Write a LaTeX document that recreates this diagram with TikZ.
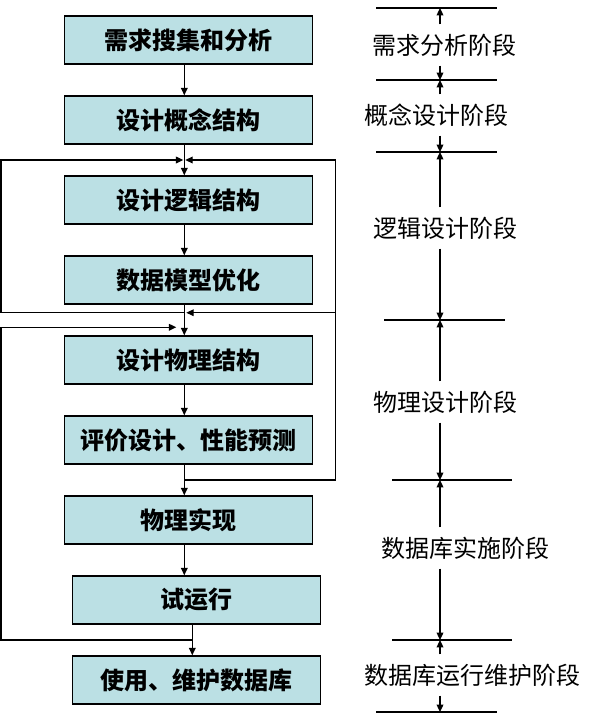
\documentclass[tikz,border=0pt]{standalone}
\usepackage{fontspec}
\newfontfamily\cjk{Noto Sans CJK SC}
\usetikzlibrary{arrows.meta,calc,positioning}
\definecolor{boxfill}{RGB}{187,224,228}
\tikzset{pin/.style={-{Triangle[length=5.5pt,width=5pt]}},
  phase/.style={draw, line width=1.1pt, fill=boxfill, minimum width=186pt, minimum height=36pt,
    inner sep=0pt, font=\cjk\bfseries\fontsize{18}{20}\selectfont},
  stage/.style={inner sep=0pt, minimum height=30pt, font=\cjk\fontsize{18}{20}\selectfont}}

\begin{document}
\begin{tikzpicture}[x=0.75pt, y=-0.75pt, line width=0.9pt, node distance=22.9pt]
  \useasboundingbox (0,0) rectangle (597,721);
  % design steps
  \node[phase] (b1) at (188.3,40) {需求搜集和分析};
  \node[phase, below=of b1] (b2) {设计概念结构};
  \node[phase, below=of b2] (b3) {设计逻辑结构};
  \node[phase, below=of b3] (b4) {数据模型优化};
  \node[phase, below=of b4] (b5) {设计物理结构};
  \node[phase, below=of b5] (b6) {评价设计、性能预测};
  \node[phase, below=of b6] (b7) {物理实现};
  \node[phase, below=of b7, xshift=6pt] (b8) {试运行};
  \node[phase, below=of b8] (b9) {使用、维护数据库};
  \coordinate (sp) at ([xshift=-3pt]b1.south);
  \foreach \a/\b in {b1/b2, b2/b3, b3/b4, b4/b5, b5/b6, b6/b7, b7/b8}{\draw[pin] (\a.south -| sp) -- (\b.north -| sp);}
  \draw[pin] ([xshift=-3pt]b8.south) -- ([xshift=-3pt]b9.north);
  % feedback loops
  \coordinate (lft) at (1,0);
  \coordinate (rgt) at (335.7,0);
  \coordinate (fbT) at ($(b2.south -| sp)!0.5!(b3.north -| sp)$);
  \coordinate (fbL) at ($(b4.south -| sp)+(0,8)$);
  \coordinate (fbQ) at ($(b5.north -| sp)+(0,-8)$);
  \coordinate (fbP) at ($(b6.south -| sp)!0.5!(b7.north -| sp)$);
  \coordinate (fbR) at ($([xshift=-3pt]b8.south)!0.5!([xshift=-3pt]b9.north)$);
  \draw[pin, shorten >=0.75pt] (fbL) -- (fbL -| lft) -- (fbT -| lft) -- (fbT);
  \draw[pin, shorten >=0.75pt] (fbP) -- (fbP -| rgt) -- (fbT -| rgt) -- (fbT);
  \draw[pin, shorten >=1.5pt] (fbL -| rgt) -- (fbL);
  \draw[pin, shorten >=6pt] (fbR) -- (fbR -| lft) -- (fbQ -| lft) -- (fbQ);
  % stage marks
  \foreach \n/\y/\l/\r in {0/8/376/497, 1/80/376/497, 2/152/376/497, 3/320/384/505,
      4/480/392/512, 5/640/392/512, 6/712/376/497}{
    \coordinate (m\n) at (440,\y);
    \draw (\l,\y) -- (\r,\y);
  }
  \node[stage] (s1) at (444.8,45) {需求分析阶段};
  \node[stage] (s2) at (436.5,115) {概念设计阶段};
  \node[stage] (s3) at (445,228) {逻辑设计阶段};
  \node[stage] (s4) at (445,402) {物理设计阶段};
  \node[stage] (s5) at (465,548) {数据库实施阶段};
  \node[stage] (s6) at (472.3,675) {数据库运行维护阶段};
  \foreach \s/\a/\b in {1/0/1, 2/1/2, 3/2/3, 4/3/4, 5/4/5, 6/5/6}{
    \draw[pin] (m\a |- s\s.north) -- (m\a);
    \draw[pin] (m\b |- s\s.south) -- (m\b);
  }
\end{tikzpicture}
\end{document}
